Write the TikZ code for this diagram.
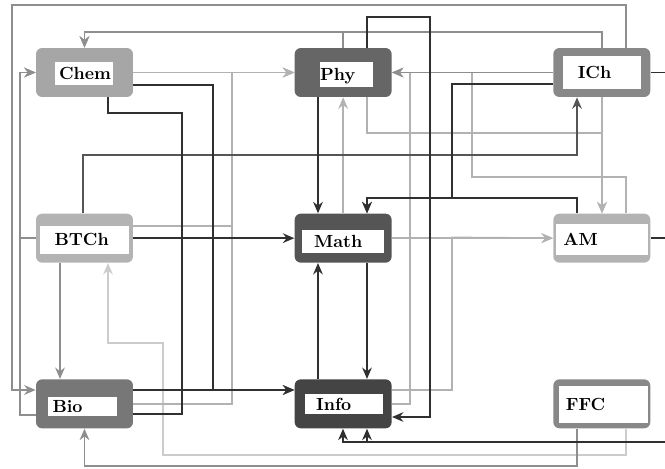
\documentclass[tikz,border=0pt]{standalone}
\usepackage{xcolor}
\usepackage{tikz}
\usetikzlibrary{arrows.meta, positioning}

\definecolor{chemc}{HTML}{A6A6A6}
\definecolor{phyc}{HTML}{666666}
\definecolor{ichc}{HTML}{888888}
\definecolor{btchc}{HTML}{B3B3B3}
\definecolor{mathc}{HTML}{555555}
\definecolor{amc}{HTML}{B3B3B3}
\definecolor{bioc}{HTML}{777777}
\definecolor{infoc}{HTML}{444444}
\definecolor{ffcc}{HTML}{888888}
\definecolor{linkdark}{HTML}{303030}
\definecolor{linkgray}{HTML}{555555}
\definecolor{linkmid}{HTML}{8E8E8E}
\definecolor{linklight}{HTML}{B2B2B2}
\definecolor{linkpale}{HTML}{CCCCCC}

\begin{document}
\begin{tikzpicture}[
    x=0.02cm, y=-0.02cm,
    node distance=2.32cm and 3.22cm,
    unit/.style={rectangle, rounded corners=3.5pt, minimum width=1.94cm, minimum height=0.98cm, inner sep=0pt},
    tag/.style={fill=white, anchor=north west, inner ysep=0pt, align=left, text depth=0pt, font=\fontsize{10}{12}\selectfont\bfseries},
    arrow/.style={-{Stealth[length=6.5pt, width=5.5pt]}, line width=1pt},
    link/.style={line width=1pt}
]
\useasboundingbox (0,0) rectangle (665,469);

% Nodes
\node[unit, fill=chemc] (chem) at (84.5,72.5) {};
\node[unit, fill=phyc, right=of chem] (phy) {};
\node[unit, fill=ichc, right=of phy] (ich) {};
\node[unit, fill=btchc, below=of chem] (btch) {};
\node[unit, fill=mathc, right=of btch] (math) {};
\node[unit, fill=amc, right=of math] (am) {};
\node[unit, fill=bioc, below=of btch] (bio) {};
\node[unit, fill=infoc, right=of bio] (info) {};
\node[unit, fill=ffcc, right=of info] (ffc) {};

% Labels
\node[tag, text width=1cm, inner xsep=0.08cm, minimum height=0.46cm] (chemtag) at ([shift={(19,14)}]chem.north west) {Chem};
\node[tag, text width=1.06cm, inner xsep=0cm, minimum height=0.5cm] (phytag) at ([shift={(25.5,14)}]phy.north west) {Phy};
\node[tag, text width=0.96cm, inner xsep=0.3cm, minimum height=0.66cm] (ichtag) at ([shift={(9.5,8)}]ich.north west) {ICh};
\node[tag, text width=1.2cm, inner xsep=0.3cm, minimum height=0.56cm] (btchtag) at ([shift={(3.5,12)}]btch.north west) {BTCh};
\node[tag, text width=1.16cm, inner xsep=0.24cm, minimum height=0.46cm] (mathtag) at ([shift={(7.5,16)}]math.north west) {Math};
\node[tag, text width=1.56cm, inner xsep=0.14cm, minimum height=0.62cm] (amtag) at ([shift={(3,10)}]am.north west) {AM};
\node[tag, text width=1.2cm, inner xsep=0.1cm, minimum height=0.38cm] (biotag) at ([shift={(11.5,18)}]bio.north west) {Bio};
\node[tag, text width=1.12cm, inner xsep=0.22cm, minimum height=0.4cm] (infotag) at ([shift={(10.5,15)}]info.north west) {Info};
\node[tag, text width=1.5cm, inner xsep=0.14cm, minimum height=0.74cm] (ffctag) at ([shift={(5.5,7)}]ffc.north west) {FFC};

% Arrows (light)
\draw[arrow, linkpale] (ffc.south -| 626,0) |- (163,455) |- (108,343) -- (btch.south -| 108,0);
\draw[arrow, linklight] (chem.east) -- (phy.west);
\draw[arrow, linklight] (btch.east |- 0,226) -| (232,72.5) -- (phy.west);
\draw[arrow, linklight] (bio.east) -| (232,72.5) -- (phy.west);
\draw[arrow, linklight] (math.east) -- (am.west);
\draw[arrow, linklight] (info.east |- 0,390) -| (452,237.5) -- (am.west);
\draw[arrow, linklight] (phy.south -| 367,0) |- (602,133) -- (am.north -| 602,0);
\draw[arrow, linklight] (ich.south -| 602,0) -- (am.north -| 602,0);
\draw[arrow, linklight] (math.north) -- (phy.south);
\draw[arrow, linklight] (info.east) -| (410,72.5) -- (phy.east);
\draw[arrow, linklight] (am.north -| 626,0) |- (472,177) |- (phy.east);

% Arrows (mid)
\draw[arrow, linkmid] (ich.north -| 626,0) |- (12,5) |- (bio.west |- 0,390);
\draw[arrow, linkmid] (ich.north -| 602,0) -- (602,32) -| (chem.north);
\draw[arrow, linkmid] (phy.north) -- (phy.north |- 0,32) -| (chem.north);
\draw[arrow, linkmid] (bio.west |- 0,415) -| (20,72.5) -- (chem.west);
\draw[arrow, linkmid] (btch.west) -| (20,72.5) -- (chem.west);
\draw[arrow, linkmid] (btch.south -| 60,0) -- (bio.north -| 60,0);
\draw[arrow, linkmid] (ffc.south -| 577,0) -- (577,466) -| (bio.south);
\draw[arrow, linkmid] (ich.west) -- (phy.east);
\draw[arrow, linkgray] (btch.north -| 83,0) |- (577,155) -- (ich.south -| 577,0);

% Arrows (dark)
\draw[arrow, linkdark] (phy.north -| 367,0) |- (430,17) |- (info.east |- 0,417);
\draw[arrow, linkdark] (chem.east |- 0,85) -| (213,390) -- (info.west |- 0,390);
\draw[arrow, linkdark] (bio.east |- 0,390) -- (info.west |- 0,390);
\draw[link, linkdark] (chem.south -| 108,0) |- (182,113) |- (bio.east |- 0,414);
\draw[arrow, linkdark] (btch.east) -- (math.west);
\draw[arrow, linkdark] (phy.south -| 318,0) -- (math.north -| 318,0);
\draw[arrow, linkdark] (info.north -| 318,0) -- (math.south -| 318,0);
\draw[arrow, linkdark] (math.south -| 367,0) -- (info.north -| 367,0);
\draw[arrow, linkdark] (ich.west |- 0,84) -| (452,198) -| (math.north -| 367,0);
\draw[arrow, linkdark] (am.north -| 577,0) |- (367,198) -- (math.north -| 367,0);
\draw[arrow, linkdark] (ich.east) -| (680,442) -| (info.south -| 367,0);
\draw[arrow, linkdark] (am.east) -| (672,442) -| (info.south -| 343,0);

\end{tikzpicture}
\end{document}
